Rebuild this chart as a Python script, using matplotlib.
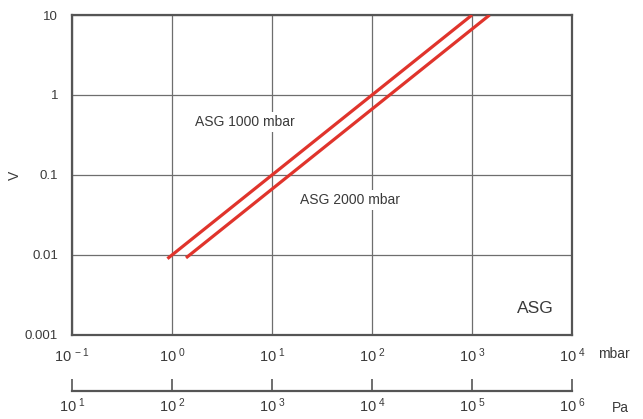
import numpy as np
import matplotlib
matplotlib.use("Agg")
import matplotlib.pyplot as plt
from matplotlib.ticker import FixedLocator, FuncFormatter

plt.rcParams['font.family'] = ['Liberation Sans', 'DejaVu Sans']
plt.rcParams['mathtext.fontset'] = 'custom'
plt.rcParams['mathtext.rm'] = 'Liberation Sans'
plt.rcParams['mathtext.it'] = 'Liberation Sans'
plt.rcParams['mathtext.default'] = 'regular'

# data: pressure (mbar) vs. signal V
p_1000 = [0.9, 1000]
v_1000 = [0.009, 10]
p_2000 = [1.38, 1500]
v_2000 = [0.0092, 10]

x_ticks_mbar = [1e-1, 1e0, 1e1, 1e2, 1e3, 1e4]
x_ticks_pa = [1e1, 1e2, 1e3, 1e4, 1e5, 1e6]
y_ticks = [0.001, 0.01, 0.1, 1, 10]
y_labels = ["0.001", "0.01", "0.1", "1", "10"]

txt = "#3a3a3a"
red = "#e0342c"
grid_c = "#6e6e6e"

fig = plt.figure(figsize=(6.43, 4.19), dpi=100)
ax = fig.add_axes([0.112, 0.2005, 0.7776, 0.7637])

ax.plot(p_1000, v_1000, color=red, lw=2.3, solid_capstyle='butt', zorder=3)
ax.plot(p_2000, v_2000, color=red, lw=2.3, solid_capstyle='butt', zorder=3)

ax.set_xscale('log')
ax.set_yscale('log')
ax.set_xlim(1e-1, 1e4)
ax.set_ylim(1e-3, 10)

pow_fmt = FuncFormatter(lambda v, pos: r'$10^{\ %d}$' % round(np.log10(v)))

ax.xaxis.set_major_locator(FixedLocator(x_ticks_mbar))
ax.xaxis.set_minor_locator(FixedLocator([]))
ax.yaxis.set_major_locator(FixedLocator(y_ticks))
ax.yaxis.set_minor_locator(FixedLocator([]))
ax.set_yticklabels(y_labels)
ax.xaxis.set_major_formatter(pow_fmt)

ax.tick_params(axis='both', length=0, labelcolor=txt)
ax.tick_params(axis='x', pad=8, labelsize=10.5)
ax.tick_params(axis='y', pad=10, labelsize=9.5)
ax.grid(True, color=grid_c, lw=0.9, zorder=1)
for s in ax.spines.values():
    s.set_color("#555555")
    s.set_linewidth(1.6)

fig.text(15 / 643, 1 - 175 / 419, "V", fontsize=10, color=txt, rotation=90, ha='center', va='center')

box = dict(facecolor='white', edgecolor='none', pad=2)
ax.text(5.4, 0.46, "ASG 1000 mbar", fontsize=10, color=txt, ha='center', va='center', bbox=box, zorder=2)
ax.text(60, 0.049, "ASG 2000 mbar", fontsize=10, color=txt, ha='center', va='center', bbox=box, zorder=2)
ax.text(0.926, 0.084, "ASG", fontsize=12.5, color=txt, ha='center', va='center', transform=ax.transAxes)
fig.text(598 / 643, 1 - 354 / 419, "mbar", fontsize=10, color=txt, ha='left', va='center')

# second scale in Pa
ax2 = fig.add_axes([0.112, 0.0668, 0.7776, 0.001])
ax2.set_xscale('log')
ax2.set_xlim(1e1, 1e6)
ax2.xaxis.set_major_locator(FixedLocator(x_ticks_pa))
ax2.xaxis.set_minor_locator(FixedLocator([]))
ax2.xaxis.set_major_formatter(pow_fmt)
ax2.set_yticks([])
for k in ['top', 'left', 'right']:
    ax2.spines[k].set_visible(False)
ax2.spines['bottom'].set_color("#555555")
ax2.spines['bottom'].set_linewidth(1.6)
ax2.patch.set_visible(False)
ax2.tick_params(axis='x', direction='in', length=9, width=1.2, color="#555555",
                labelsize=10.5, labelcolor=txt, pad=4)
fig.text(612 / 643, 1 - 408 / 419, "Pa", fontsize=10, color=txt, ha='left', va='center')

fig.savefig("out.png", dpi=100)
